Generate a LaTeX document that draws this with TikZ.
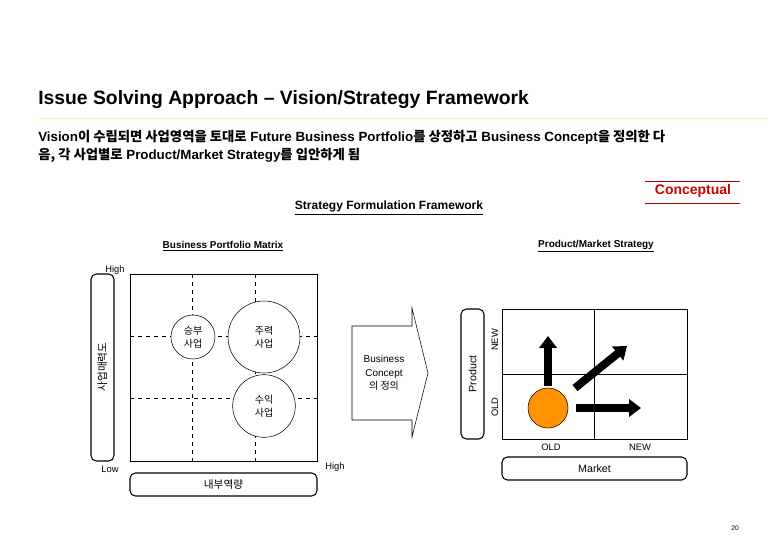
\documentclass[tikz,border=0pt]{standalone}
\usepackage{fontspec}
\setmainfont{Liberation Sans}
\newfontfamily\kr{Noto Sans CJK KR}
\usetikzlibrary{arrows.meta}
\begin{document}
\begin{tikzpicture}[x=0.75pt,y=-0.75pt,
  lbl/.style={font=\fontsize{7}{8}\selectfont,inner sep=0pt},
  rbox/.style={draw,rounded corners=4pt,thick},
  gridline/.style={dashed,thin},
  bub/.style={draw,circle,fill=white,thin,align=center,font=\kr\fontsize{7.5}{10}\selectfont,inner sep=0pt},
  fat/.style={line width=6pt,-{Triangle[length=9pt,width=13pt]}}]
\useasboundingbox (0,0) rectangle (780,540);
\node[anchor=west,font=\bfseries\fontsize{14.5}{16}\selectfont,inner sep=0pt] (title) at (38,100) {Issue Solving Approach – Vision/Strategy Framework};
\draw[color=brown!30!yellow!35!white,line width=0.6pt] (38,118) -- (768,118);
\node[anchor=north west,align=left,font=\bfseries\fontsize{10}{13.5}\selectfont,inner sep=0pt] (sub) at (38,130) {Vision{\kr 이 수립되면 사업영역을 토대로} Future Business Portfolio{\kr 를 상정하고} Business Concept{\kr 을 정의한 다}\\{\kr 음, 각 사업별로} Product/Market Strategy{\kr 를 입안하게 됨}};
\draw[red!70!black,thin] (645,181) -- (740,181) (645,203) -- (740,203);
\node[font=\bfseries\fontsize{10.5}{12}\selectfont,color=red!80!black] (conc) at (693,191) {Conceptual};
\node[font=\bfseries\fontsize{9}{10}\selectfont] (sff) at (389,208) {\underline{Strategy Formulation Framework}};
\node[font=\bfseries\fontsize{7.5}{9}\selectfont] (bpm) at (223,246) {\underline{Business Portfolio Matrix}};
\node[font=\bfseries\fontsize{7.5}{9}\selectfont] (pms) at (596,246) {\underline{Product/Market Strategy}};
% left matrix
\draw[gridline] (192,274) -- (192,461) (255,274) -- (255,461) (130,336) -- (317,336) (130,398) -- (317,398);
\draw[thin] (130,274) rectangle (317,461);
\node[bub,minimum size=33pt] (c1) at (193,337) {승부\\사업};
\node[bub,minimum size=54pt] (c2) at (264,337) {주력\\사업};
\node[bub,minimum size=47pt] (c3) at (264,406) {수익\\사업};
\draw[rbox] (91,274) rectangle (114,461);
\node[rotate=90,font=\kr\fontsize{8}{9}\selectfont] (ya) at (102.5,367) {사업매력도};
\draw[rbox] (130,473) rectangle (317,496);
\node[font=\kr\fontsize{8}{9}\selectfont] (xa) at (223.5,484.5) {내부역량};
\node[lbl] (hi1) at (115,270) {High};
\node[lbl] (lo) at (110,469) {Low};
\node[lbl] (hi2) at (335,467) {High};
% big arrow
\draw[thin] (352,326) -- (412,326) -- (412,308) -- (428,373) -- (412,437) -- (412,420) -- (352,420) -- cycle;
\node[align=center,font=\fontsize{7.5}{10}\selectfont] (bc) at (384,373) {Business\\Concept\\{\kr 의 정의}};
% right matrix
\draw[rbox] (461,309) rectangle (484,439);
\node[rotate=90,font=\fontsize{8}{9}\selectfont] (py) at (472.5,374) {Product};
\draw[thin] (502,309) rectangle (687,439) (594,309) -- (594,439) (502,374) -- (687,374);
\node[lbl,rotate=90] (pnew) at (495,340) {NEW};
\node[lbl,rotate=90] (pold) at (495,407) {OLD};
\node[lbl] (mold) at (551,447) {OLD};
\node[lbl] (mnew) at (640,447) {NEW};
\draw[rbox] (502,457) rectangle (687,480);
\node[font=\fontsize{8}{9}\selectfont] (mk) at (594.5,468.5) {Market};
\node[draw,circle,fill=orange!85!yellow,minimum size=30pt,inner sep=0pt] (oc) at (548,408) {};
\coordinate (u) at (548,336);
\coordinate (d) at (627,346);
\coordinate (r) at (641,408);
\draw[fat] (548,386) -- (u);
\draw[fat] (575,388) -- (d);
\draw[fat] (576,408) -- (r);
\node[font=\fontsize{5}{6}\selectfont] (pg) at (735,528) {20};
\end{tikzpicture}
\end{document}
